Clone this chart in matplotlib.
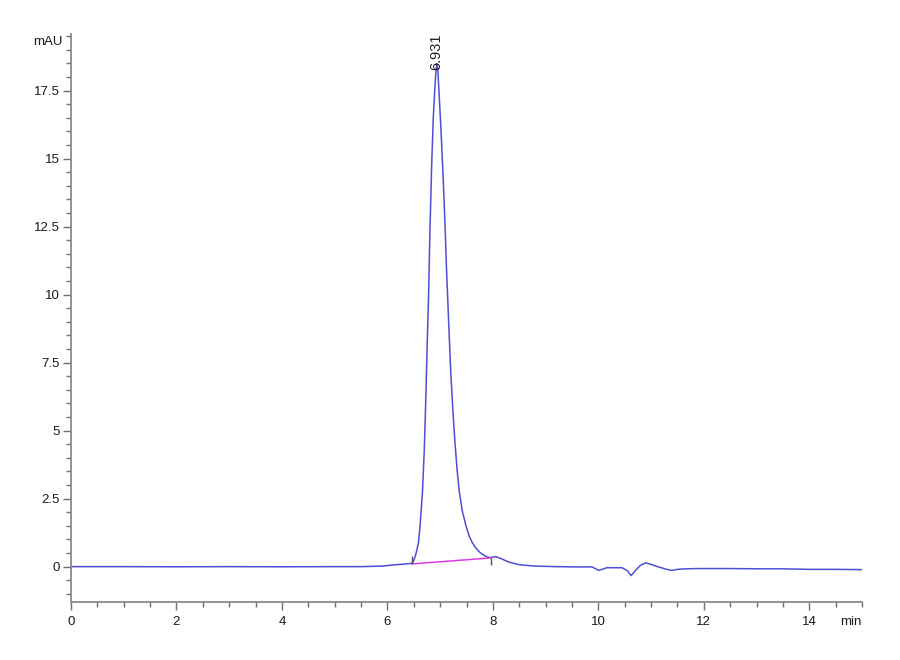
import matplotlib
matplotlib.use('Agg')
import matplotlib.pyplot as plt
from matplotlib import font_manager
from matplotlib.ticker import MultipleLocator, FixedLocator

# chromatogram trace (min, mAU)
time = [0.0, 1.0, 2.0, 3.0, 4.0, 5.0, 5.5, 5.9, 6.15, 6.3, 6.46,
        6.50, 6.53, 6.56, 6.59, 6.62, 6.665, 6.70, 6.73, 6.755, 6.78,
        6.805, 6.84, 6.87, 6.90, 6.92, 6.937, 6.955, 6.98, 7.01, 7.044,
        7.07, 7.094, 7.12, 7.145, 7.17, 7.20, 7.24, 7.28, 7.32, 7.36,
        7.42, 7.49, 7.55, 7.61, 7.68, 7.75, 7.83, 7.90, 7.96, 8.05,
        8.15, 8.30, 8.50, 8.80, 9.20, 9.60, 9.88, 10.01, 10.16, 10.45,
        10.55, 10.62, 10.70, 10.80, 10.90, 11.00, 11.14, 11.30, 11.39, 11.50,
        11.65, 11.90, 12.5, 13.0, 13.5, 14.0, 14.5, 15.0]
mau = [0.0, 0.0, -0.005, 0.0, -0.005, 0.0, 0.0, 0.02, 0.07, 0.09, 0.12,
       0.22, 0.40, 0.62, 0.90, 1.50, 2.75, 4.3, 6.3, 8.2, 9.9,
       12.2, 14.8, 16.5, 17.6, 18.2, 18.5, 18.3, 17.4, 16.3, 14.9,
       13.7, 12.5, 11.0, 9.8, 8.6, 7.2, 5.8, 4.6, 3.6, 2.8,
       2.05, 1.5, 1.13, 0.88, 0.68, 0.53, 0.42, 0.35, 0.33, 0.37,
       0.30, 0.17, 0.07, 0.02, 0.0, -0.01, -0.01, -0.14, -0.04, -0.04,
       -0.15, -0.33, -0.15, 0.05, 0.14, 0.08, -0.01, -0.10, -0.14, -0.10,
       -0.08, -0.07, -0.07, -0.08, -0.08, -0.10, -0.10, -0.11]

# integration baseline of the peak
base_t = [6.46, 7.96]
base_v = [0.10, 0.32]
peak_rt = 6.931
peak_h = 18.5
peak_label = '6.931'

names = {f.name for f in font_manager.fontManager.ttflist}
if 'Liberation Sans Narrow' in names:
    tick_font = 'Liberation Sans Narrow'
    tick_size = 11
else:
    tick_font = 'Liberation Sans'
    tick_size = 9.5
plt.rcParams['font.family'] = [tick_font, 'DejaVu Sans']

fig = plt.figure(figsize=(9, 6.6), dpi=100)
ax = fig.add_axes([71 / 900, 1 - 602 / 660, 791 / 900, 568.5 / 660])

ax.plot(time, mau, color='#3c3cd2', lw=1.1, alpha=0.9)
ax.plot(base_t, base_v, color='#e13ce1', lw=1.1)
# start / end markers of the peak
ax.vlines(base_t[0], base_v[0], base_v[0] + 0.28, color='#505050', lw=1)
ax.vlines(base_t[1], base_v[1] - 0.25, base_v[1], color='#505050', lw=1)

ax.text(peak_rt, peak_h - 0.25, peak_label, rotation=90, ha='center', va='bottom',
        fontsize=10.5, color='#222222', family=['Liberation Sans', 'DejaVu Sans'])

ax.set_xlim(0, 15)
ax.set_ylim(-1.3, 19.6)
ax.xaxis.set_major_locator(FixedLocator([0, 2, 4, 6, 8, 10, 12, 14]))
ax.xaxis.set_minor_locator(MultipleLocator(0.5))
ax.yaxis.set_major_locator(MultipleLocator(2.5))
ax.yaxis.set_minor_locator(MultipleLocator(0.5))
ax.yaxis.set_major_formatter(plt.FuncFormatter(lambda v, p: ('%g' % v)))

for s in ['top', 'right']:
    ax.spines[s].set_visible(False)
for s in ['left', 'bottom']:
    ax.spines[s].set_color('#8a8a8a')
    ax.spines[s].set_linewidth(1.3)

ax.tick_params(which='major', length=6, width=1, color='#707070',
               labelsize=tick_size, labelcolor='#1a1a1a')
ax.tick_params(which='minor', length=3.5, width=1, color='#707070')
ax.tick_params(axis='y', pad=2)
ax.tick_params(axis='x', pad=4)

ax.text(-0.011, 19.3, 'mAU', transform=ax.get_yaxis_transform(), ha='right',
        va='center', fontsize=tick_size, color='#1a1a1a')
ax.text(1.0, -0.035, 'min', transform=ax.transAxes, ha='right',
        va='center', fontsize=tick_size, color='#1a1a1a')

fig.savefig('out.png', dpi=100)
